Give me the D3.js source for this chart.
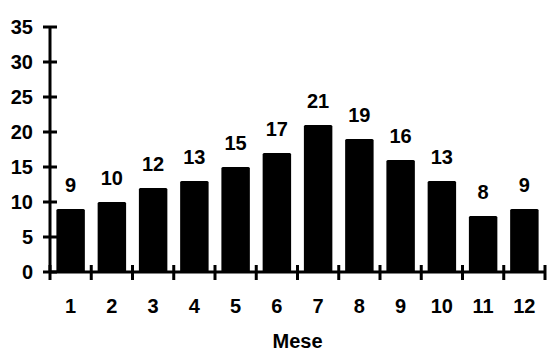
<!DOCTYPE html>
<html>
<head>
<meta charset="utf-8">
<script src="https://cdn.jsdelivr.net/npm/d3@7"></script>
<style>
  body { margin: 0; background: #fff; }
  text { font-family: "Liberation Sans", Arial, sans-serif; font-weight: bold; font-size: 20px; fill: #000; }
</style>
</head>
<body>
<div id="chart"></div>
<script>
const months = ["1", "2", "3", "4", "5", "6", "7", "8", "9", "10", "11", "12"];
const counts = [9, 10, 12, 13, 15, 17, 21, 19, 16, 13, 8, 9];
const yTicks = [0, 5, 10, 15, 20, 25, 30, 35];

const width = 547, height = 352;
const margin = { left: 50, right: 2, top: 27, bottom: 80 };

const svg = d3.select("#chart")
    .append("svg")
    .attr("width", width)
    .attr("height", height);

const x = d3.scaleBand()
    .domain(months)
    .range([margin.left, width - margin.right])
    .paddingInner(0.31)
    .paddingOuter(0.155);

const y = d3.scaleLinear()
    .domain([0, 35])
    .range([height - margin.bottom, margin.top]);

// bars
svg.selectAll("rect.bar")
    .data(counts)
    .enter()
    .append("rect")
    .attr("class", "bar")
    .attr("x", (d, i) => x(months[i]))
    .attr("y", d => y(d))
    .attr("width", x.bandwidth())
    .attr("height", d => y(0) - y(d))
    .attr("rx", 1.5)
    .attr("fill", "#000");

// value labels
svg.selectAll("text.value")
    .data(counts)
    .enter()
    .append("text")
    .attr("class", "value")
    .attr("x", (d, i) => x(months[i]) + x.bandwidth() / 2)
    .attr("y", d => y(d) - 17)
    .attr("text-anchor", "middle")
    .text(d => d);

// y axis
const yAxis = svg.append("g");
yAxis.append("line")
    .attr("x1", margin.left).attr("x2", margin.left)
    .attr("y1", y(35)).attr("y2", y(0))
    .attr("stroke", "#000").attr("stroke-width", 3);
yAxis.selectAll("line.tick")
    .data(yTicks)
    .enter()
    .append("line")
    .attr("class", "tick")
    .attr("x1", margin.left - 7).attr("x2", margin.left + 7)
    .attr("y1", d => y(d)).attr("y2", d => y(d))
    .attr("stroke", "#000").attr("stroke-width", 3);
yAxis.selectAll("text")
    .data(yTicks)
    .enter()
    .append("text")
    .attr("x", margin.left - 17)
    .attr("y", d => y(d))
    .attr("dy", "0.36em")
    .attr("text-anchor", "end")
    .text(d => d);

// x axis
const xBounds = d3.range(months.length + 1).map(i => margin.left + i * (width - margin.right - margin.left) / months.length);
const xAxis = svg.append("g");
xAxis.append("line")
    .attr("x1", margin.left).attr("x2", width - margin.right)
    .attr("y1", y(0)).attr("y2", y(0))
    .attr("stroke", "#000").attr("stroke-width", 3);
xAxis.selectAll("line.tick")
    .data(xBounds)
    .enter()
    .append("line")
    .attr("class", "tick")
    .attr("x1", d => d).attr("x2", d => d)
    .attr("y1", y(0) - 7).attr("y2", y(0) + 8)
    .attr("stroke", "#000").attr("stroke-width", 3);
xAxis.selectAll("text")
    .data(months)
    .enter()
    .append("text")
    .attr("x", d => x(d) + x.bandwidth() / 2)
    .attr("y", y(0) + 41)
    .attr("text-anchor", "middle")
    .text(d => d);

// axis title
svg.append("text")
    .attr("x", (margin.left + width - margin.right) / 2)
    .attr("y", height - 4)
    .attr("text-anchor", "middle")
    .text("Mese");
</script>
</body>
</html>
